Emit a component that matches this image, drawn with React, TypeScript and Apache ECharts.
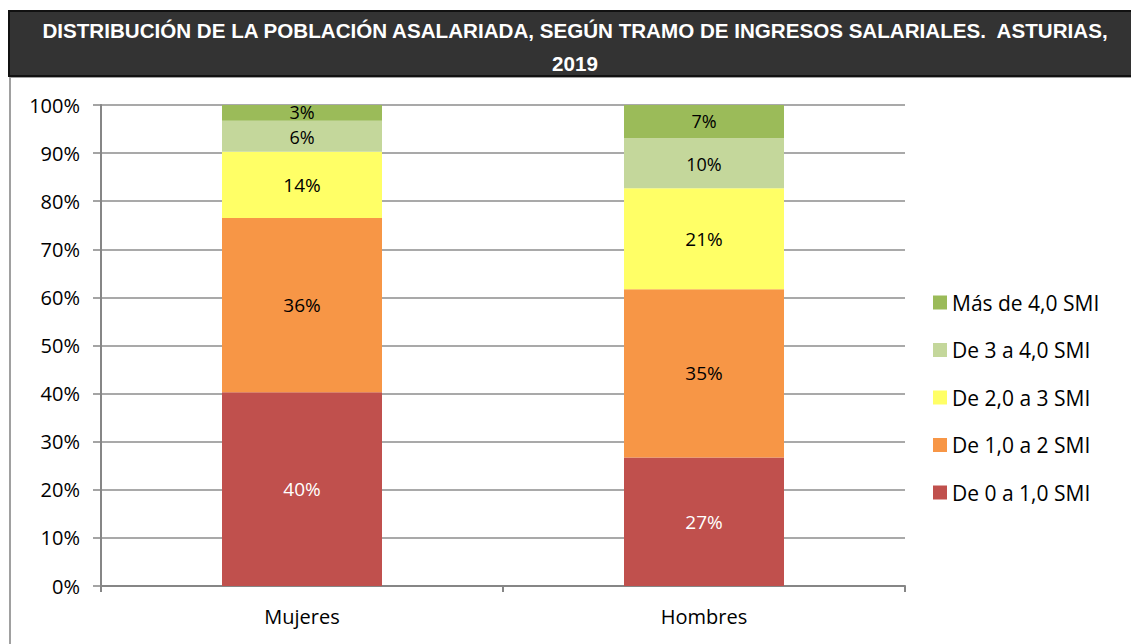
import React, { useEffect, useRef } from "react";
import * as echarts from "echarts";

const categories = ["Mujeres", "Hombres"];
const seriesNames = [
  "De 0 a 1,0 SMI",
  "De 1,0 a 2 SMI",
  "De 2,0 a 3 SMI",
  "De 3 a 4,0 SMI",
  "Más de 4,0 SMI",
];
const tramo0a1 = [40.3, 26.7];
const tramo1a2 = [36.2, 35.0];
const tramo2a3 = [13.8, 21.0];
const tramo3a4 = [6.4, 10.4];
const tramoMas4 = [3.3, 6.9];
const seriesValues = [tramo0a1, tramo1a2, tramo2a3, tramo3a4, tramoMas4];
const seriesColors = ["#C0504D", "#F79646", "#FFFF66", "#C4D79B", "#9BBB59"];
const labelColors = ["#FFFFFF", "#000000", "#000000", "#000000", "#000000"];
const legendOrder = [
  "Más de 4,0 SMI",
  "De 3 a 4,0 SMI",
  "De 2,0 a 3 SMI",
  "De 1,0 a 2 SMI",
  "De 0 a 1,0 SMI",
];
const titleLine1 =
  "DISTRIBUCIÓN DE LA POBLACIÓN ASALARIADA, SEGÚN TRAMO DE INGRESOS SALARIALES.  ASTURIAS,";
const titleLine2 = "2019";

const FONT = "'Open Sans', 'Noto Sans', 'Liberation Sans', sans-serif";
const TITLE_FONT = "bold 20.6px 'Liberation Sans', Arial, sans-serif";

export default function App() {
  const ref = useRef<HTMLDivElement>(null);
  useEffect(() => {
    document.body.style.margin = "0";
    if (!ref.current) return;
    const chart = echarts.init(ref.current, null, { renderer: "svg" });
    const option: any = {
      animation: false,
      backgroundColor: "#ffffff",
      textStyle: { fontFamily: FONT },
      grid: { left: 101, right: 226, top: 105, bottom: 58 },
      legend: {
        orient: "vertical",
        left: 928,
        top: 287,
        data: legendOrder,
        itemWidth: 14,
        itemHeight: 14,
        itemGap: 26.5,
        icon: "rect",
        textStyle: { fontSize: 21, color: "#000", fontFamily: FONT, lineHeight: 20 },
        selectedMode: false,
      },
      xAxis: {
        type: "category",
        data: categories,
        axisLine: { lineStyle: { color: "#868686", width: 2 } },
        axisTick: { show: true, length: 6, alignWithLabel: false, lineStyle: { color: "#868686", width: 2 } },
        axisLabel: { fontSize: 20, color: "#000", margin: 20, fontFamily: FONT },
      },
      yAxis: {
        type: "value",
        min: 0,
        max: 100,
        interval: 10,
        axisLine: { show: true, lineStyle: { color: "#868686", width: 2 } },
        axisTick: { show: true, length: 8, lineStyle: { color: "#868686", width: 1.5 } },
        axisLabel: { fontSize: 20, color: "#000", margin: 21, formatter: "{value}%", fontFamily: FONT },
        splitLine: { lineStyle: { color: "#8c8c8c", width: 1.5 } },
      },
      series: seriesNames.map((name, i) => ({
        name,
        type: "bar",
        stack: "total",
        barWidth: 160,
        data: seriesValues[i],
        itemStyle: { color: seriesColors[i] },
        label: {
          show: true,
          position: "inside",
          color: labelColors[i],
          fontSize: i >= 3 ? 18 : 19,
          lineHeight: 14,
          offset: i === 4 ? [0, -1] : i === 3 ? [0, 1] : [0, 0],
          fontFamily: FONT,
          formatter: (p: any) => Math.round(p.value) + "%",
        },
      })),
      graphic: [
        {
          type: "rect",
          z: -10,
          shape: { x: 10, y: 77, width: 1130, height: 600 },
          style: { fill: "none", stroke: "#a0a0a0", lineWidth: 2 },
          silent: true,
        },
        {
          type: "rect",
          shape: { x: 9, y: 11, width: 1130, height: 65 },
          style: { fill: "#333333", stroke: "#111111", lineWidth: 2 },
          silent: true,
        },
        {
          type: "text",
          x: 575,
          y: 30,
          style: {
            text: titleLine1,
            fill: "#ffffff",
            font: TITLE_FONT,
            align: "center",
            verticalAlign: "middle",
          },
          silent: true,
        },
        {
          type: "text",
          x: 575,
          y: 63,
          style: {
            text: titleLine2,
            fill: "#ffffff",
            font: TITLE_FONT,
            align: "center",
            verticalAlign: "middle",
          },
          silent: true,
        },
      ],
    };
    chart.setOption(option);
    return () => chart.dispose();
  }, []);
  return <div ref={ref} style={{ width: 1131, height: 644 }} />;
}
